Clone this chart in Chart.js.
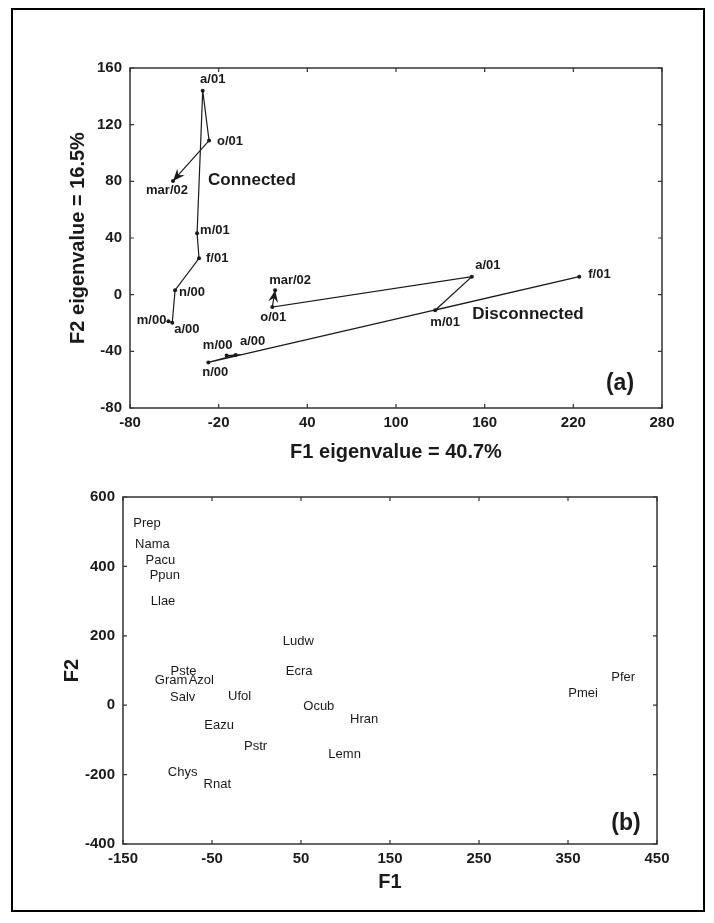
<!DOCTYPE html>
<html><head><meta charset="utf-8">
<script src="https://cdn.jsdelivr.net/npm/chart.js@4.4.1/dist/chart.umd.min.js"></script>
<style>
html,body{margin:0;padding:0;background:#fff;}
body{width:714px;height:923px;position:relative;overflow:hidden;}
#frame{position:absolute;left:11px;top:8px;width:690px;height:900px;border:2px solid #000;}
#ca{position:absolute;left:0;top:0;}
#cb{position:absolute;left:0;top:470px;}
</style></head><body>
<div id="frame"></div>
<canvas id="ca" width="714" height="470"></canvas>
<canvas id="cb" width="714" height="453"></canvas>
<script>
// ---------- DATA ----------
const periodLabels = ['m/00','a/00','n/00','f/01','m/01','a/01','o/01','mar/02'];
const connectedF1 = [-54, -51.4, -49.5, -33.3, -34.6, -30.8, -26.5, -50.9];
const connectedF2 = [-18.8, -19.8, 3.2, 25.7, 43.3, 144, 108.8, 80.3];
const disconnectedF1 = [-14.6, -8.5, -27, 224, 126.5, 151.3, 16.3, 18.2];
const disconnectedF2 = [-43, -42.6, -47.8, 12.7, -11, 12.7, -8.7, 3.2];
const axisAF1Ticks = [-80, -20, 40, 100, 160, 220, 280];
const axisAF2Ticks = [-80, -40, 0, 40, 80, 120, 160];

const speciesNames = ['Prep','Nama','Pacu','Ppun','Llae','Ludw','Pste','Ecra','Gram','Azol','Salv','Ufol','Ocub','Hran','Eazu','Pstr','Lemn','Chys','Rnat','Pfer','Pmei'];
const speciesF1 = [-123, -117, -108, -103, -105, 47, -82, 48, -96, -62, -83, -19, 70, 121, -42, -1, 99, -83, -44, 412, 367];
const speciesF2 = [525, 462, 418, 375, 298, 185, 96, 96, 72, 70, 22, 26, -3, -41, -58, -120, -142, -195, -229, 80, 34];
const axisBF1Ticks = [-150, -50, 50, 150, 250, 350, 450];
const axisBF2Ticks = [-400, -200, 0, 200, 400, 600];

// ---------- STYLES ----------
const FONT = "'Liberation Sans', Arial, sans-serif";
const INK = '#1a1a1a';
const labelStyleA = {
  connected: [[-2,-1,'right'],[2,7,'left'],[4,2,'left'],[7,0,'left'],[3,-3,'left'],[10,-11,'center'],[8,1,'left'],[-6,10,'center']],
  disconnected: [[-9,-10,'center'],[17,-14,'center'],[7,10,'center'],[9,-2,'left'],[10,12,'center'],[16,-11,'center'],[1,10,'center'],[15,-10,'center']]
};
const groupNotes = [
  {text:'Connected', x:-27.2, y:81},
  {text:'Disconnected', x:151.6, y:-14.2}
];

// ---------- PLUGINS ----------
const framePlugin = {
  id:'frameTicks',
  afterDraw(chart){
    const {ctx, chartArea:a} = chart;
    const sx = chart.scales.x, sy = chart.scales.y;
    ctx.save();
    ctx.strokeStyle = '#333'; ctx.lineWidth = 1.5;
    ctx.strokeRect(a.left, a.top, a.right - a.left, a.bottom - a.top);
    ctx.lineWidth = 1.2;
    ctx.beginPath();
    sx.ticks.forEach(t => {
      const px = sx.getPixelForValue(t.value);
      ctx.moveTo(px, a.bottom); ctx.lineTo(px, a.bottom - 4);
      ctx.moveTo(px, a.top); ctx.lineTo(px, a.top + 4);
    });
    sy.ticks.forEach(t => {
      const py = sy.getPixelForValue(t.value);
      ctx.moveTo(a.left, py); ctx.lineTo(a.left + 4, py);
      ctx.moveTo(a.right, py); ctx.lineTo(a.right - 4, py);
    });
    ctx.stroke();
    const tag = chart.options.plugins.panelTag;
    if (tag) {
      ctx.fillStyle = INK;
      ctx.font = 'bold 23px ' + FONT;
      ctx.textAlign = 'center'; ctx.textBaseline = 'middle';
      ctx.fillText(tag.text, a.right - tag.dx, a.bottom - tag.dy);
    }
    ctx.restore();
  }
};

const pointLabelPlugin = {
  id:'pointLabels',
  afterDatasetsDraw(chart){
    const ctx = chart.ctx;
    ctx.save();
    chart.data.datasets.forEach((ds, di) => {
      const meta = chart.getDatasetMeta(di);
      const style = ds.labelStyle;
      ctx.fillStyle = INK;
      ctx.font = ds.labelFont;
      ctx.textBaseline = 'middle';
      meta.data.forEach((el, i) => {
        const s = style ? style[i] : [0,0,'center'];
        ctx.textAlign = s[2];
        ctx.fillText(ds.names[i], el.x + s[0], el.y + s[1]);
      });
      if (ds.arrow) {
        const n = meta.data.length;
        const p = meta.data[n-1], q = meta.data[n-2];
        const ang = Math.atan2(p.y - q.y, p.x - q.x);
        const L = 12, W = 5, N = 8;
        ctx.save();
        ctx.translate(p.x, p.y); ctx.rotate(ang);
        ctx.beginPath();
        ctx.moveTo(0,0); ctx.lineTo(-L, -W); ctx.lineTo(-N, 0); ctx.lineTo(-L, W); ctx.closePath();
        ctx.fillStyle = INK; ctx.fill();
        ctx.restore();
      }
    });
    const notes = chart.options.plugins.groupNotes;
    if (notes) {
      ctx.font = 'bold 17px ' + FONT;
      ctx.textAlign = 'left'; ctx.textBaseline = 'middle';
      notes.forEach(n => {
        ctx.fillText(n.text, chart.scales.x.getPixelForValue(n.x), chart.scales.y.getPixelForValue(n.y));
      });
    }
    ctx.restore();
  }
};

function axis(min, max, ticksArr, title, fitSize, horizontal, titlePad, tickPad){
  return {
    type:'linear', min, max,
    position: horizontal ? 'bottom' : 'left',
    afterBuildTicks: s => { s.ticks = ticksArr.map(v => ({value:v})); },
    afterFit: s => { if (horizontal) s.height = fitSize; else s.width = fitSize; },
    grid:{display:false, drawTicks:false},
    border:{display:false},
    ticks:{font:{family:FONT, size:15, weight:'bold'}, color:INK, padding:tickPad, autoSkip:false, maxRotation:0,
      callback: v => String(v)},
    title:{display:true, text:title, color:INK, font:{family:FONT, size:20, weight:'bold'},
      padding: horizontal ? {top:0, bottom:titlePad} : {top:titlePad, bottom:0}}
  };
}

// ---------- PANEL (a) ----------
new Chart(document.getElementById('ca'), {
  type:'scatter',
  data:{datasets:[
    {names:periodLabels, labelStyle:labelStyleA.connected, labelFont:'bold 13px ' + FONT, arrow:true,
     data:connectedF1.map((v,i)=>({x:v, y:connectedF2[i]})),
     showLine:true, borderColor:INK, borderWidth:1.2, pointRadius:2, pointBackgroundColor:INK, pointBorderWidth:0},
    {names:periodLabels, labelStyle:labelStyleA.disconnected, labelFont:'bold 13px ' + FONT, arrow:true,
     data:disconnectedF1.map((v,i)=>({x:v, y:disconnectedF2[i]})),
     showLine:true, borderColor:INK, borderWidth:1.2, pointRadius:2, pointBackgroundColor:INK, pointBorderWidth:0}
  ]},
  options:{
    responsive:false, animation:false, devicePixelRatio:1,
    layout:{padding:{left:0, top:68, right:52, bottom:0}},
    plugins:{legend:{display:false}, tooltip:{enabled:false},
      panelTag:{text:'(a)', dx:42, dy:24}, groupNotes:groupNotes},
    scales:{
      x: axis(-80, 280, axisAF1Ticks, 'F1 eigenvalue = 40.7%', 62, true, 6, 6),
      y: axis(-80, 160, axisAF2Ticks, 'F2 eigenvalue = 16.5%', 130, false, 66, 8)
    }
  },
  plugins:[framePlugin, pointLabelPlugin]
});

// ---------- PANEL (b) ----------
new Chart(document.getElementById('cb'), {
  type:'scatter',
  data:{datasets:[
    {names:speciesNames, labelFont:'13px ' + FONT,
     data:speciesF1.map((v,i)=>({x:v, y:speciesF2[i]})),
     showLine:false, pointRadius:0}
  ]},
  options:{
    responsive:false, animation:false, devicePixelRatio:1,
    layout:{padding:{left:0, top:27, right:57, bottom:0}},
    plugins:{legend:{display:false}, tooltip:{enabled:false},
      panelTag:{text:'(b)', dx:31, dy:20}},
    scales:{
      x: axis(-150, 450, axisBF1Ticks, 'F1', 79, true, 29, 6),
      y: axis(-400, 600, axisBF2Ticks, 'F2', 123, false, 60, 8)
    }
  },
  plugins:[framePlugin, pointLabelPlugin]
});
</script>
</body></html>
